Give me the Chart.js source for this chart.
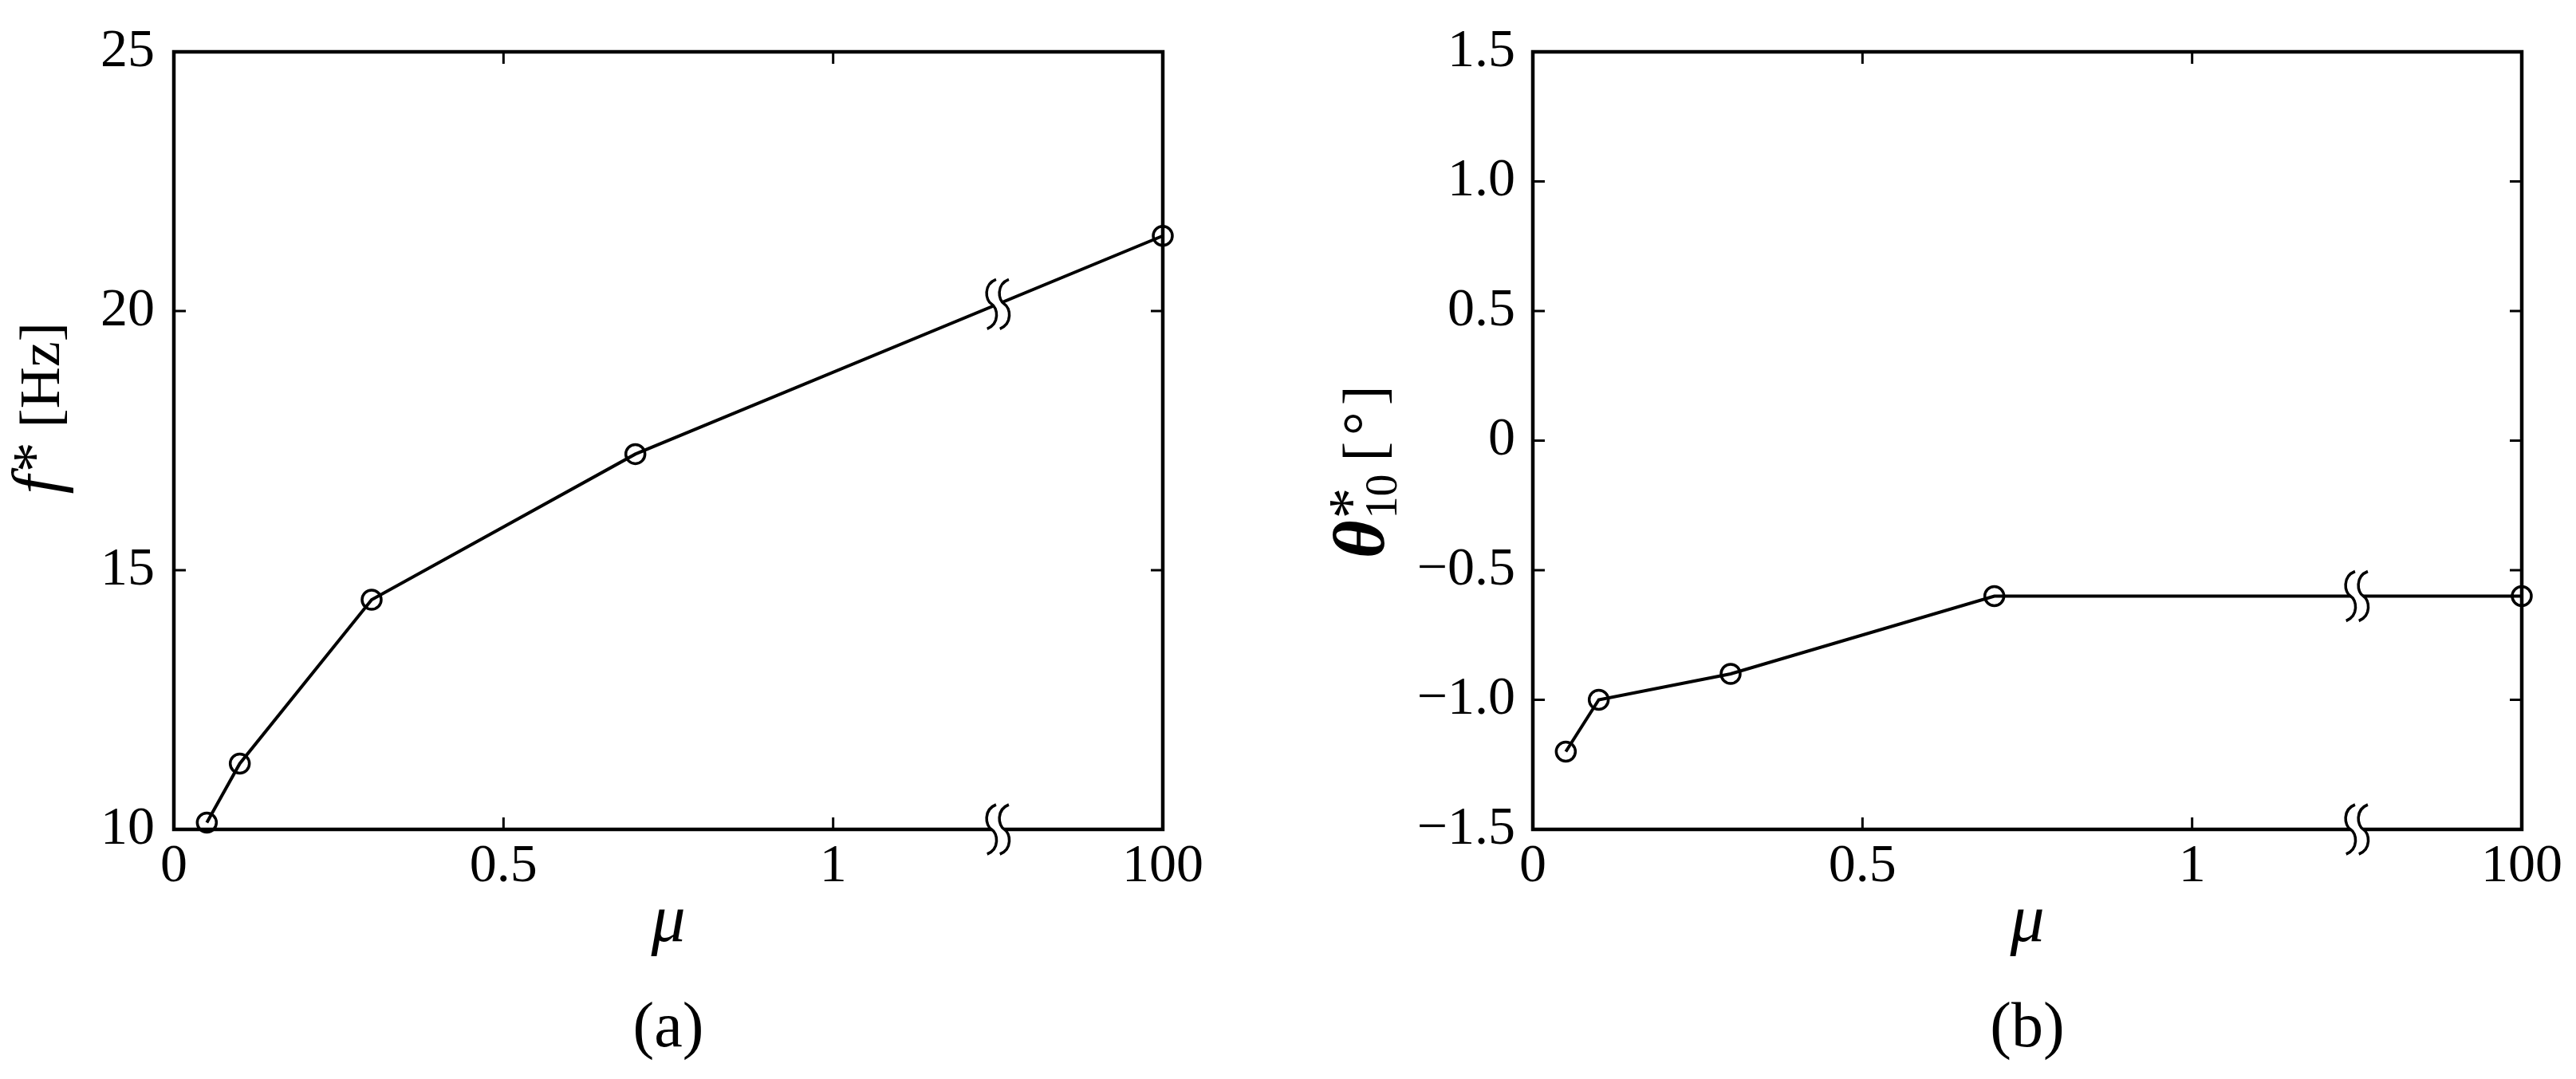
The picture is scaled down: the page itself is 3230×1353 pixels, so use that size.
<!DOCTYPE html>
<html>
<head>
<meta charset="utf-8">
<script src="https://cdn.jsdelivr.net/npm/chart.js@4.4.0/dist/chart.umd.min.js"></script>
<style>
  html, body { margin: 0; padding: 0; background: #fff; }
  #wrap { position: relative; width: 3230px; height: 1353px; background: #fff; }
  .panel { position: absolute; top: 0; width: 1615px; height: 1353px; }
</style>
</head>
<body>
<div id="wrap">
  <div class="panel" style="left:0"><canvas id="chartA" width="1615" height="1353"></canvas></div>
  <div class="panel" style="left:1615px"><canvas id="chartB" width="1615" height="1353"></canvas></div>
</div>
<script>
// values
const muValues = [0.05, 0.1, 0.3, 0.7, 100];
const freqValues = [10.13, 11.27, 14.43, 17.24, 21.45];
const thetaValues = [-1.2, -1.0, -0.9, -0.6, -0.6];

const muTickValues = [0, 0.5, 1, 100];
const muTickLabels = ['0', '0.5', '1', '100'];
const freqTickLabels = ['10', '15', '20', '25'];
const thetaTickLabels = ['\u22121.5', '\u22121.0', '\u22120.5', '0', '0.5', '1.0', '1.5'];

const SERIF = '"Liberation Serif", "DejaVu Serif", serif';

// broken x axis: 0..1 linear, then 100 placed half a unit further
const BREAK_AT = 1.25;
function axisPos(mu) {
  return mu <= 1 ? mu : 1.5;
}

// one stroke of the break sign, h = half height, w = bulge
function sCurve(ctx, cx, cy, h, w) {
  ctx.moveTo(cx + w * 0.7, cy - h);
  ctx.bezierCurveTo(cx - w * 1.3, cy - h * 0.8, cx - w, cy - h * 0.15, cx, cy);
  ctx.bezierCurveTo(cx + w, cy + h * 0.15, cx + w * 1.3, cy + h * 0.8, cx - w * 0.7, cy + h);
}

function drawBreak(ctx, cx, cy) {
  const g = 8, h = 31, w = 8;
  // blank out the gap between the two strokes
  ctx.beginPath();
  ctx.moveTo(cx - g + w * 0.7, cy - h);
  ctx.bezierCurveTo(cx - g - w * 1.3, cy - h * 0.8, cx - g - w, cy - h * 0.15, cx - g, cy);
  ctx.bezierCurveTo(cx - g + w, cy + h * 0.15, cx - g + w * 1.3, cy + h * 0.8, cx - g - w * 0.7, cy + h);
  ctx.lineTo(cx + g - w * 0.7, cy + h);
  ctx.bezierCurveTo(cx + g + w * 1.3, cy + h * 0.8, cx + g + w, cy + h * 0.15, cx + g, cy);
  ctx.bezierCurveTo(cx + g - w, cy - h * 0.15, cx + g - w * 1.3, cy - h * 0.8, cx + g + w * 0.7, cy - h);
  ctx.closePath();
  ctx.fillStyle = '#fff';
  ctx.fill();
  ctx.beginPath();
  sCurve(ctx, cx - g, cy, h, w);
  sCurve(ctx, cx + g, cy, h, w);
  ctx.lineWidth = 3.5;
  ctx.strokeStyle = '#000';
  ctx.stroke();
}

// text made of runs with different fonts
function drawRuns(ctx, runs, x, y, rotate) {
  ctx.save();
  ctx.translate(x, y);
  if (rotate) ctx.rotate(-Math.PI / 2);
  ctx.textAlign = 'left';
  ctx.textBaseline = 'alphabetic';
  ctx.fillStyle = '#000';
  let total = 0;
  runs.forEach(r => {
    ctx.font = r.font;
    r.w = r.adv != null ? r.adv : ctx.measureText(r.text).width;
    total += r.w + (r.gap || 0);
  });
  let pos = -total / 2;
  runs.forEach(r => {
    ctx.font = r.font;
    ctx.fillText(r.text, pos, r.dy || 0);
    pos += r.w + (r.gap || 0);
  });
  ctx.restore();
}

function framePlugin(drawLabels) {
  return {
    id: 'frame',
    afterDraw(chart) {
      const { ctx, chartArea: a } = chart;
      const x = chart.scales.x, y = chart.scales.y;
      ctx.save();
      ctx.strokeStyle = '#000';
      ctx.lineWidth = 4.5;
      ctx.strokeRect(a.left, a.top, a.right - a.left, a.bottom - a.top);

      // inward ticks on all four sides
      const len = 15;
      ctx.lineWidth = 3;
      ctx.beginPath();
      x.ticks.forEach(t => {
        const px = x.getPixelForValue(t.value);
        if (px <= a.left + 2 || px >= a.right - 2) return;
        ctx.moveTo(px, a.bottom); ctx.lineTo(px, a.bottom - len);
        ctx.moveTo(px, a.top); ctx.lineTo(px, a.top + len);
      });
      y.ticks.forEach(t => {
        const py = y.getPixelForValue(t.value);
        if (py <= a.top + 2 || py >= a.bottom - 2) return;
        ctx.moveTo(a.left, py); ctx.lineTo(a.left + len, py);
        ctx.moveTo(a.right, py); ctx.lineTo(a.right - len, py);
      });
      ctx.stroke();

      // break marks on the axis and on the line
      const bx = x.getPixelForValue(BREAK_AT);
      drawBreak(ctx, bx, a.bottom);
      const pts = chart.getDatasetMeta(0).data;
      const p1 = pts[pts.length - 2], p2 = pts[pts.length - 1];
      const by = p1.y + (p2.y - p1.y) * (bx - p1.x) / (p2.x - p1.x);
      drawBreak(ctx, bx, by);

      drawLabels(ctx, a);
      ctx.restore();
    }
  };
}

function makeChart(id, values, yOpts, yWidth, padRight, drawLabels) {
  const ctx = document.getElementById(id).getContext('2d');
  return new Chart(ctx, {
    type: 'line',
    data: {
      datasets: [{
        data: muValues.map((m, i) => ({ x: axisPos(m), y: values[i] })),
        borderColor: '#000',
        borderWidth: 4,
        tension: 0,
        fill: false,
        clip: false,
        pointStyle: 'circle',
        pointRadius: 12,
        pointBorderWidth: 3.5,
        pointBorderColor: '#000',
        pointBackgroundColor: 'rgba(0,0,0,0)'
      }]
    },
    options: {
      responsive: false,
      animation: false,
      devicePixelRatio: 1,
      layout: { padding: { left: 0, top: 65, right: padRight, bottom: 0 } },
      plugins: { legend: { display: false }, tooltip: { enabled: false } },
      scales: {
        x: {
          type: 'linear',
          min: 0,
          max: 1.5,
          grid: { display: false, drawTicks: false },
          border: { display: false },
          afterBuildTicks: s => { s.ticks = muTickValues.map(v => ({ value: axisPos(v) })); },
          afterFit: s => { s.height = 313; },
          ticks: {
            autoSkip: false,
            maxRotation: 0,
            padding: 6,
            color: '#000',
            font: { family: SERIF, size: 68 },
            callback: (v, i) => muTickLabels[i]
          }
        },
        y: Object.assign({
          grid: { display: false, drawTicks: false },
          border: { display: false },
          afterFit: s => { s.width = yWidth; },
        }, yOpts)
      }
    },
    plugins: [framePlugin(drawLabels)]
  });
}

// (a) natural frequency
makeChart('chartA', freqValues, {
  min: 10,
  max: 25,
  ticks: {
    stepSize: 5,
    padding: 24,
    color: '#000',
    font: { family: SERIF, size: 68 },
    callback: (v, i) => freqTickLabels[i]
  }
}, 218, 157, (ctx, a) => {
  const cx = (a.left + a.right) / 2;
  drawRuns(ctx, [{ text: '\u03bc', font: 'italic 86px ' + SERIF }], cx, 1180, false);
  drawRuns(ctx, [{ text: '(a)', font: '80px ' + SERIF }], cx, 1312, false);
  drawRuns(ctx, [
    { text: 'f', font: 'italic 84px ' + SERIF, gap: 4 },
    { text: '*', font: '76px ' + SERIF, dy: -6, gap: 18 },
    { text: '[Hz]', font: '72px ' + SERIF }
  ], 74, 512, true);
});

// (b) angle
makeChart('chartB', thetaValues, {
  min: -1.5,
  max: 1.5,
  ticks: {
    stepSize: 0.5,
    padding: 22,
    color: '#000',
    font: { family: SERIF, size: 68 },
    callback: (v, i) => thetaTickLabels[i]
  }
}, 307, 68, (ctx, a) => {
  const cx = (a.left + a.right) / 2;
  drawRuns(ctx, [{ text: '\u03bc', font: 'italic 86px ' + SERIF }], cx, 1180, false);
  drawRuns(ctx, [{ text: '(b)', font: '80px ' + SERIF }], cx, 1312, false);
  drawRuns(ctx, [
    { text: '\u03b8', font: 'bold italic 92px ' + SERIF, gap: 2 },
    { text: '*', font: '78px ' + SERIF, dy: -16, adv: 0 },
    { text: '10', font: '56px ' + SERIF, dy: 16, gap: 16 },
    { text: '[', font: '74px ' + SERIF, gap: 8 },
    { text: '\u00b0', font: '74px ' + SERIF, gap: 8 },
    { text: ']', font: '74px ' + SERIF }
  ], 120, 592, true);
});
</script>
</body>
</html>
